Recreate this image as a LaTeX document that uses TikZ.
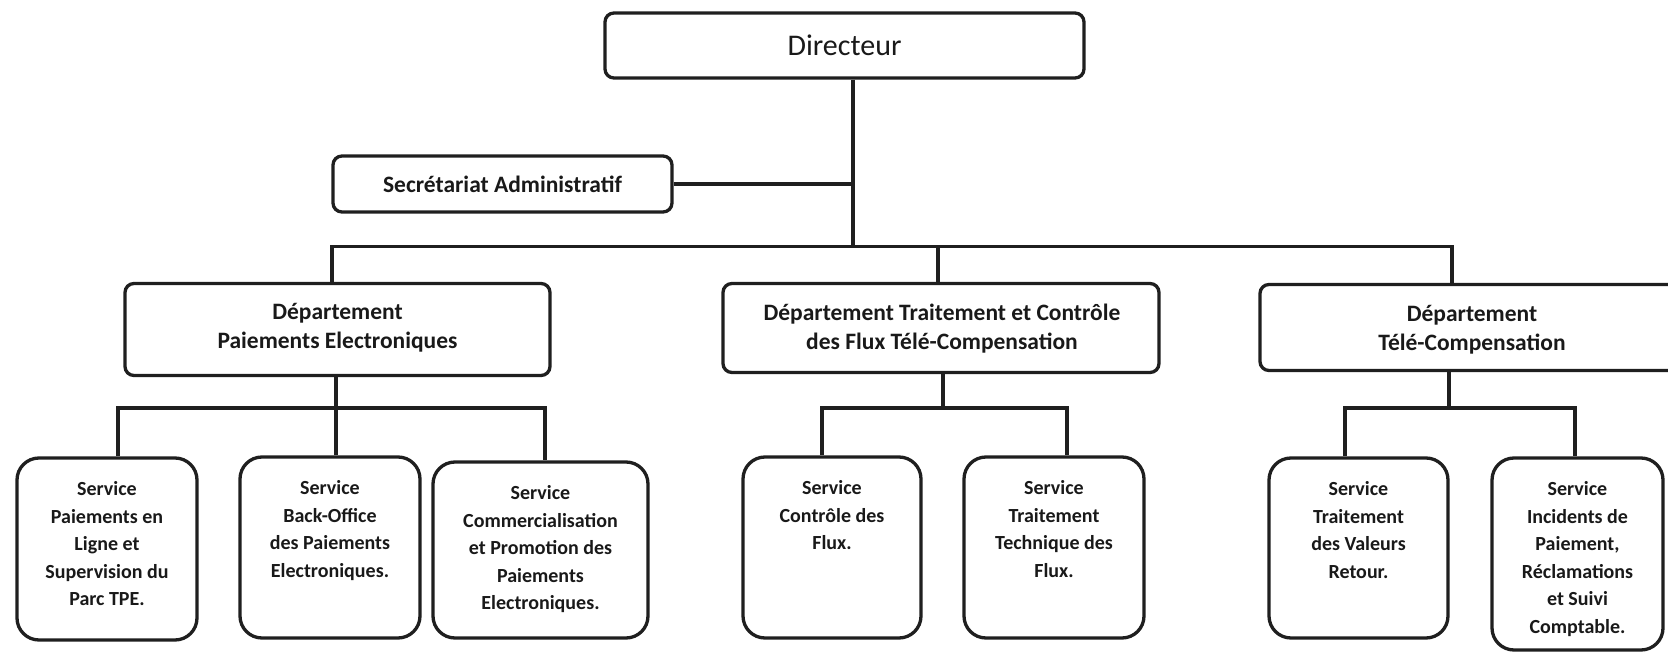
\documentclass[tikz,border=0pt]{standalone}
\usepackage{fontspec}
\setmainfont{Carlito}
\begin{document}
\begin{tikzpicture}[x=1pt,y=-1pt,
  link/.style={draw=black!88, line width=3.2pt, line join=miter},
  topbox/.style={draw=black!88, line width=3.3pt, rounded corners=9pt, inner sep=0pt},
  svcbox/.style={draw=black!88, line width=3.3pt, rounded corners=22pt, inner sep=0pt},
  headtxt/.style={font=\bfseries\fontsize{23.5}{29}\selectfont, align=center, text=black!90},
  svctxt/.style={font=\bfseries\fontsize{20}{27.6}\selectfont, align=center, anchor=north, inner sep=0pt, text=black!90}
]
\useasboundingbox (0,0) rectangle (1668,652);
\clip (0,0) rectangle (1668,652);

% --- level 1: director and secretariat ---
\node[topbox, minimum width=479pt, minimum height=65pt] (dir) at (844.5,45.5) {};
\node[font=\fontsize{30}{36}\selectfont, text=black!90] (dirt) at (844.5,45.5) {Directeur};

\node[topbox, minimum width=339pt, minimum height=56pt] (sec) at (502.5,184) {};
\node[font=\bfseries\fontsize{23.5}{28}\selectfont, text=black!90] (sect) at (502.5,184) {Secrétariat Administratif};

% --- level 2: departments ---
\node[topbox, minimum width=425pt, minimum height=92pt] (d1) at (337.5,329.5) {};
\node[headtxt] (d1t) at (337.5,328) {Département\\Paiements Electroniques};

\node[topbox, minimum width=436pt, minimum height=89pt] (d2) at (941,328) {};
\node[headtxt] (d2t) at (942,328.5) {Département Traitement et Contrôle\\des Flux Télé-Compensation};

\node[topbox, minimum width=430pt, minimum height=86pt] (d3) at (1475,327.5) {};
\node[headtxt] (d3t) at (1472,330) {Département\\Télé-Compensation};

% --- level 3: services ---
\node[svcbox, minimum width=180pt, minimum height=182pt] (s1) at (107,549) {};
\node[svctxt] (s1t) at ([yshift=-25pt]s1.north) {Service\\Paiements en\\Ligne et\\Supervision du\\Parc TPE.};

\node[svcbox, minimum width=180pt, minimum height=181pt] (s2) at (330,547.5) {};
\node[svctxt] (s2t) at ([yshift=-25pt]s2.north) {Service\\Back-Office\\des Paiements\\Electroniques.};

\node[svcbox, minimum width=215pt, minimum height=176pt] (s3) at (540.5,550) {};
\node[svctxt] (s3t) at ([yshift=-25pt]s3.north) {Service\\Commercialisation\\et Promotion des\\Paiements\\Electroniques.};

\node[svcbox, minimum width=178pt, minimum height=181pt] (s4) at (832,547.5) {};
\node[svctxt] (s4t) at ([yshift=-25pt]s4.north) {Service\\Contrôle des\\Flux.};

\node[svcbox, minimum width=180pt, minimum height=181pt] (s5) at (1054,547.5) {};
\node[svctxt] (s5t) at ([yshift=-25pt]s5.north) {Service\\Traitement\\Technique des\\Flux.};

\node[svcbox, minimum width=179pt, minimum height=180pt] (s6) at (1358.5,548) {};
\node[svctxt] (s6t) at ([yshift=-25pt]s6.north) {Service\\Traitement\\des Valeurs\\Retour.};

\node[svcbox, minimum width=171pt, minimum height=192pt] (s7) at (1577.5,554) {};
\node[svctxt] (s7t) at ([yshift=-25pt]s7.north) {Service\\Incidents de\\Paiement,\\Réclamations\\et Suivi\\Comptable.};

% --- junction points ---
\coordinate (trunk) at (853,246.5);
\coordinate (k1) at (332,246.5);
\coordinate (k2) at (938,246.5);
\coordinate (k3) at (1452,246.5);

\coordinate (j1) at (336,408);
\coordinate (a1) at (118,408);
\coordinate (c1) at (545,408);
\coordinate (j2) at (943,408);
\coordinate (a2) at (822,408);
\coordinate (c2) at (1067,408);
\coordinate (j3) at (1449,408);
\coordinate (a3) at (1345,408);
\coordinate (c3) at (1575,408);

% --- connectors ---
\draw[link] (dir.south -| trunk) -- (trunk);
\draw[link] (sec.east) -- (sec.east -| trunk);
\draw[link] (k1 |- d1.north) -- (k1) -- (k3) -- (k3 |- d3.north);
\draw[link] (k2) -- (k2 |- d2.north);

\draw[link] (d1.south -| j1) -- (j1) -- (j1 |- s2.north);
\draw[link] (a1 |- s1.north) -- (a1) -- (c1) -- (c1 |- s3.north);

\draw[link] (d2.south -| j2) -- (j2);
\draw[link] (a2 |- s4.north) -- (a2) -- (c2) -- (c2 |- s5.north);

\draw[link] (d3.south -| j3) -- (j3);
\draw[link] (a3 |- s6.north) -- (a3) -- (c3) -- (c3 |- s7.north);
\end{tikzpicture}
\end{document}
